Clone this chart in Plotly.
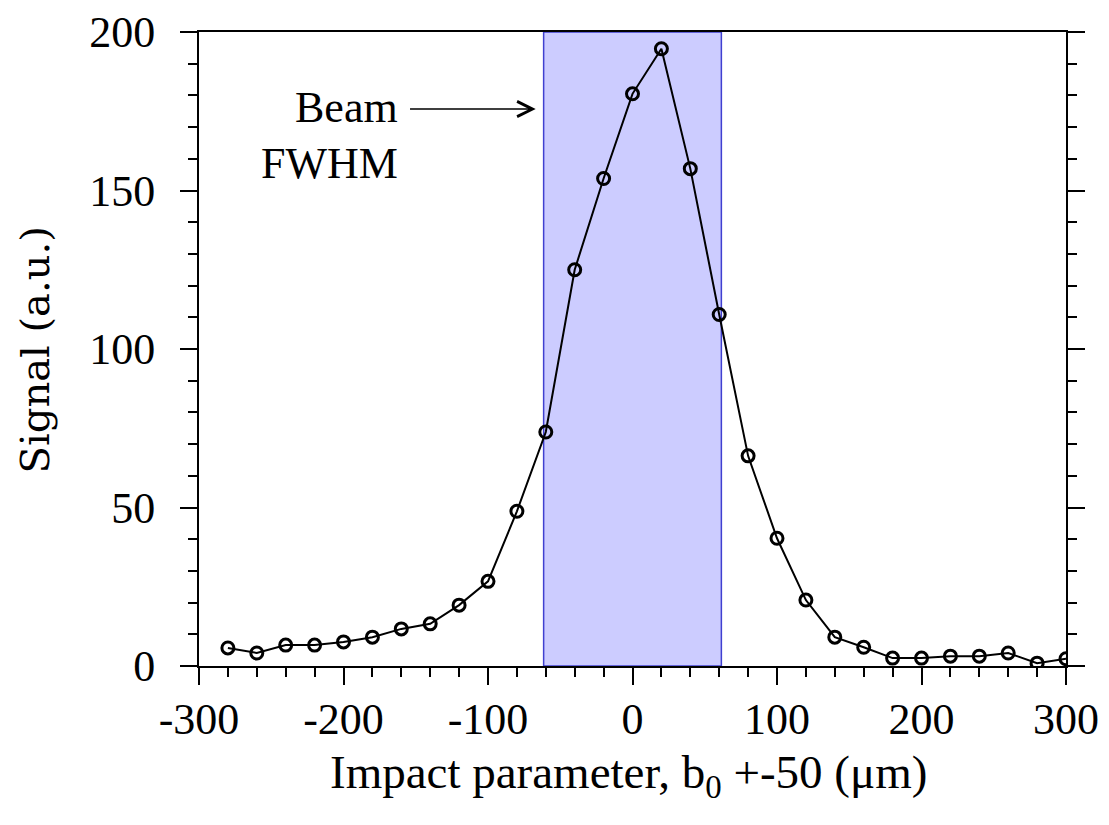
import plotly.graph_objects as go

impact = [-280, -260, -240, -220, -200, -180, -160, -140, -120, -100,
          -80, -60, -40, -20, 0, 20, 40, 60, 80, 100,
          120, 140, 160, 180, 200, 220, 240, 260, 280, 300]
signal = [5.7, 4.1, 6.6, 6.6, 7.6, 9.1, 11.7, 13.3, 19.2, 26.7,
          48.8, 73.8, 125.0, 153.8, 180.5, 194.7, 156.9, 110.9, 66.3, 40.3,
          20.8, 9.1, 5.9, 2.5, 2.5, 3.1, 3.1, 4.1, 0.9, 2.3]
fwhm = [-61.5, 61.5]
x_ticks = [-300, -200, -100, 0, 100, 200, 300]
y_ticks = [0, 50, 100, 150, 200]

serif = "Liberation Serif, Times New Roman, serif"
FS = 44

fig = go.Figure()

fig.add_shape(type="rect", xref="x", yref="y",
              x0=fwhm[0], x1=fwhm[1], y0=0, y1=200,
              fillcolor="#ccccff", line=dict(color="#4040d0", width=1.5),
              layer="below")

fig.add_trace(go.Scatter(
    x=impact, y=signal, mode="lines+markers",
    line=dict(color="black", width=2),
    marker=dict(symbol="circle-open", size=12, color="black",
                line=dict(color="black", width=3)),
    showlegend=False))

fig.add_annotation(x=-67, y=175.7, ax=-155, ay=175.7,
                   xref="x", yref="y", axref="x", ayref="y",
                   text="", showarrow=True, arrowhead=5, arrowsize=2,
                   arrowwidth=1.5, arrowcolor="black")
fig.add_annotation(x=-161, y=176.3, xref="x", yref="y", text="Beam",
                   showarrow=False, xanchor="right", yanchor="middle",
                   font=dict(family=serif, size=FS, color="black"))
fig.add_annotation(x=-161, y=158.6, xref="x", yref="y", text="FWHM",
                   showarrow=False, xanchor="right", yanchor="middle",
                   font=dict(family=serif, size=FS, color="black"))

# axis titles
fig.add_annotation(x=0.495, y=-0.172, xref="paper", yref="paper",
                   text="Impact parameter, b<sub>0</sub> +-50 (\u03bcm)",
                   showarrow=False, xanchor="center", yanchor="middle",
                   font=dict(family=serif, size=47, color="black"))
fig.add_annotation(x=-0.189, y=0.498, xref="paper", yref="paper",
                   text="Signal (a.u.)", textangle=-90,
                   showarrow=False, xanchor="center", yanchor="middle",
                   font=dict(family="DejaVu Serif, serif", size=40, color="black"))

fig.update_layout(
    width=1101, height=817,
    margin=dict(l=191, r=43, t=24, b=159),
    paper_bgcolor="white", plot_bgcolor="white",
    font=dict(family=serif, size=FS, color="black"),
    xaxis=dict(
        range=[-300, 300], tickmode="array", tickvals=x_ticks,
        ticktext=[str(v) for v in x_ticks], automargin=False,
        ticks="outside", ticklen=17, tickwidth=2, tickcolor="black",
        showline=True, linecolor="black", linewidth=2, mirror=True,
        showgrid=False, zeroline=False,
        minor=dict(dtick=20, tick0=0, ticks="outside", ticklen=9,
                   tickwidth=2, tickcolor="black", showgrid=False),
        tickfont=dict(family=serif, size=FS),
        ticklabelstandoff=-4,
    ),
    yaxis=dict(
        range=[0, 200], tickmode="array", tickvals=y_ticks,
        ticktext=[str(v) for v in y_ticks], automargin=False,
        ticks="outside", ticklen=17, tickwidth=2, tickcolor="black",
        showline=True, linecolor="black", linewidth=2, mirror="ticks",
        showgrid=False, zeroline=False,
        minor=dict(dtick=10, tick0=0, ticks="outside", ticklen=9,
                   tickwidth=2, tickcolor="black", showgrid=False),
        tickfont=dict(family=serif, size=FS),
        ticklabelstandoff=16,
    ),
)

fig.write_html("out.html")
